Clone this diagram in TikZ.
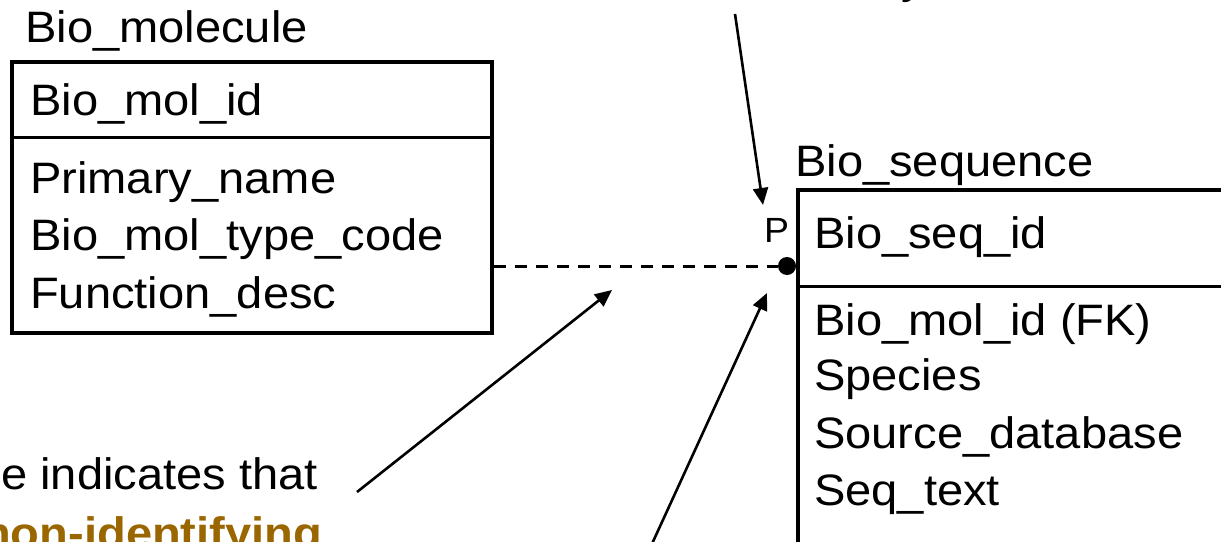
\documentclass[tikz,border=0pt]{standalone}
\usepackage{fontspec}
\setmainfont{Liberation Sans}[FakeStretch=1.07]
\usetikzlibrary{arrows.meta}
\definecolor{brownc}{RGB}{153,102,0}
\newcommand\bigfs{\fontsize{44pt}{52pt}\selectfont}
\newcommand\smallfs{\fontsize{35pt}{42pt}\selectfont}
\tikzset{
  txt/.style={inner sep=0pt, anchor=base west, font=\bigfs},
  boxline/.style={line width=4pt},
  divline/.style={line width=3pt},
  callout/.style={line width=2.6pt, -{Triangle[length=17pt,width=15pt]}},
  fkline/.style={line width=3pt, dash pattern=on 12pt off 9pt},
}
\begin{document}
\begin{tikzpicture}[x=1pt,y=-1pt]
\clip (0,0) rectangle (1221,541);
\fill[white] (0,0) rectangle (1221,541);

% Bio_molecule entity
\node[txt] (t1) at (25,42) {Bio\_molecule};
\node[boxline, draw, minimum width=480pt, minimum height=271pt, inner sep=0pt, anchor=north west] (box1) at (10,59.5) {};
\draw[divline] (box1.west |- 0,137.5) coordinate (d1l) -- (box1.east |- 0,137.5) coordinate (d1r);
\node[txt] (r11) at (30,115) {Bio\_mol\_id};
\node[txt] (r12) at (30,193) {Primary\_name};
\node[txt] (r13) at (30,250) {Bio\_mol\_type\_code};
\node[txt] (r14) at (30,308) {Function\_desc};

% Bio_sequence entity
\node[txt] (t2) at (795,176) {Bio\_sequence};
\coordinate (b2tl) at (798,190);
\coordinate (b2tr) at (1240,190);
\coordinate (b2bl) at (798,560);
\draw[boxline] (b2tr) -- (b2tl) -- (b2bl);
\draw[divline] (798,286) coordinate (d2l) -- (1240,286) coordinate (d2r);
\node[txt] (r21) at (814,248) {Bio\_seq\_id};
\node[txt] (r22) at (814,335) {Bio\_mol\_id (FK)};
\node[txt] (r23) at (814,390) {Species};
\node[txt] (r24) at (814,448) {Source\_database};
\node[txt] (r25) at (814,505) {Seq\_text};
\node[inner sep=0pt, anchor=base west, font=\smallfs] (p) at (764,242) {P};

% relationship
\node[circle, fill=black, minimum size=18pt, inner sep=0pt] (dot) at (787,266) {};
\draw[fkline] (box1.east |- dot) -- (dot.west);

% callouts
\node[txt] (c1) at (1,489) {e indicates that};
\node[txt, font=\bigfs\bfseries, text=brownc] (c2) at (-18,548) {non-identifying};
\node[txt] (c3) at (901,-7) {y};

\coordinate (a1s) at (735,14);
\coordinate (a1e) at (763,205);
\coordinate (a2s) at (357,492);
\coordinate (a2e) at (612,290);
\coordinate (a3s) at (640,570);
\coordinate (a3e) at (767,293);
\draw[callout] (a1s) -- (a1e);
\draw[callout] (a2s) -- (a2e);
\draw[callout] (a3s) -- (a3e);
\end{tikzpicture}
\end{document}
